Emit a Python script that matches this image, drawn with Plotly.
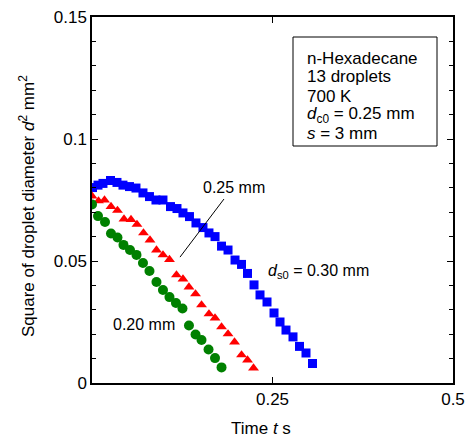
import plotly.graph_objects as go

# Data
t_030 = [0.0007, 0.0083, 0.0152, 0.0256, 0.0346, 0.0429, 0.0519, 0.0609, 0.0706, 0.0796,
         0.0886, 0.0983, 0.1087, 0.1177, 0.1260, 0.1350, 0.1440, 0.1537, 0.1620, 0.1704,
         0.1794, 0.1884, 0.1981, 0.2071, 0.2154, 0.2244, 0.2327, 0.2424, 0.2521, 0.2604,
         0.2687, 0.2784, 0.2874, 0.2964, 0.3054]
d2_030 = [0.0801, 0.0811, 0.0818, 0.0830, 0.0822, 0.0811, 0.0805, 0.0799, 0.0779, 0.0764,
          0.0750, 0.0750, 0.0723, 0.0715, 0.0697, 0.0682, 0.0656, 0.0637, 0.0615, 0.0600,
          0.0561, 0.0545, 0.0504, 0.0486, 0.0449, 0.0402, 0.0361, 0.0332, 0.0287, 0.0250,
          0.0217, 0.0189, 0.0150, 0.0123, 0.0080]

t_025 = [0.0000, 0.0090, 0.0173, 0.0263, 0.0353, 0.0443, 0.0540, 0.0623, 0.0713, 0.0803,
         0.0893, 0.0983, 0.1073, 0.1170, 0.1260, 0.1343, 0.1434, 0.1517, 0.1620, 0.1704,
         0.1794, 0.1884, 0.1974, 0.2071, 0.2154, 0.2237]
d2_025 = [0.0766, 0.0746, 0.0750, 0.0723, 0.0707, 0.0672, 0.0670, 0.0650, 0.0615, 0.0586,
          0.0545, 0.0525, 0.0506, 0.0443, 0.0426, 0.0393, 0.0365, 0.0320, 0.0283, 0.0266,
          0.0230, 0.0201, 0.0168, 0.0115, 0.0094, 0.0061]

t_020 = [0.0000, 0.0083, 0.0180, 0.0263, 0.0353, 0.0436, 0.0526, 0.0616, 0.0706, 0.0796,
         0.0893, 0.0983, 0.1073, 0.1163, 0.1253, 0.1343, 0.1434, 0.1517, 0.1614, 0.1704,
         0.1794]
d2_020 = [0.0732, 0.0684, 0.0660, 0.0613, 0.0596, 0.0566, 0.0545, 0.0525, 0.0492, 0.0459,
          0.0414, 0.0381, 0.0352, 0.0328, 0.0305, 0.0236, 0.0199, 0.0176, 0.0137, 0.0102,
          0.0064]

x_tickvals = [0.25, 0.5]
x_ticktext = ["0.25", "0.5"]
y_tickvals = [0, 0.05, 0.1, 0.15]
y_ticktext = ["0", "0.05", "0.1", "0.15"]

box_lines = ["n-Hexadecane", "13 droplets", "700 K",
             "<i>d</i><sub>c0</sub> = 0.25 mm", "<i>s</i> = 3 mm"]

FONT = "Liberation Sans, Arial, sans-serif"

fig = go.Figure()
fig.add_trace(go.Scatter(x=t_030, y=d2_030, mode="markers",
                         marker=dict(symbol="square", size=9, color="#0000ff", line=dict(width=0))))
fig.add_trace(go.Scatter(x=t_025, y=d2_025, mode="markers",
                         marker=dict(symbol="triangle-up", size=9.5, color="#ff0000", line=dict(width=0))))
fig.add_trace(go.Scatter(x=t_020, y=d2_020, mode="markers",
                         marker=dict(symbol="circle", size=10, color="#008000", line=dict(width=0))))

axis_common = dict(showgrid=False, zeroline=False, showline=True, linecolor="black", linewidth=1.5,
                   mirror="allticks", ticks="inside", ticklen=6, tickcolor="black", tickwidth=1,
                   automargin=False,
                   tickfont=dict(family=FONT, size=17, color="black"))
fig.update_xaxes(range=[0, 0.5], tickvals=x_tickvals, ticktext=x_ticktext, **axis_common)
fig.update_yaxes(range=[0, 0.15], tickvals=y_tickvals, ticktext=y_ticktext,
                 minor=dict(dtick=0.01, ticks="inside", ticklen=4, tickcolor="black", showgrid=False),
                 **axis_common)

ann_font = dict(family=FONT, size=16, color="black")
annotations = [
    dict(x=(261 - 92) / 361, y=(383 - 428) / 366, xref="paper", yref="paper", text="Time <i>t</i> s",
         xanchor="center", yanchor="middle",
         showarrow=False, font=dict(family=FONT, size=17, color="black")),
    dict(x=(27 - 92) / 361, y=(383 - 206) / 366, xref="paper", yref="paper",
         xanchor="center", yanchor="middle",
         text="Square of droplet diameter <i>d</i><sup>2</sup> mm<sup>2</sup>",
         textangle=-90, showarrow=False, font=dict(family=FONT, size=17, color="black")),
    dict(x=0.1967, y=0.0803, xref="x", yref="y", text="0.25 mm", showarrow=False, font=ann_font),
    dict(x=0.072, y=0.0238, xref="x", yref="y", text="0.20 mm", showarrow=False, font=ann_font),
    dict(x=0.2406, y=0.0455, xref="x", yref="y", xanchor="left",
         text="<i>d</i><sub>s0</sub> = 0.30 mm", showarrow=False, font=ann_font),
]
box_y = [58, 77, 96, 115, 133]
for txt, py in zip(box_lines, box_y):
    annotations.append(dict(x=(305 - 92) / 361, y=(383 - py) / 366, xref="paper", yref="paper",
                            xanchor="left", yanchor="middle", text=txt, showarrow=False,
                            font=dict(family=FONT, size=17, color="black")))

shapes = [
    dict(type="rect", xref="paper", yref="paper", x0=(293 - 92) / 361, x1=(437 - 92) / 361,
         y0=(383 - 146) / 366, y1=(383 - 37) / 366, line=dict(color="black", width=1),
         fillcolor="white", layer="below"),
    dict(type="line", xref="x", yref="y", x0=0.1219, y0=0.0516, x1=0.1828, y1=0.0754,
         line=dict(color="black", width=1)),
]

fig.update_layout(width=468, height=437, margin=dict(l=92, r=15, t=17, b=54, autoexpand=False),
                  plot_bgcolor="white", paper_bgcolor="white", showlegend=False,
                  annotations=annotations, shapes=shapes,
                  font=dict(family=FONT, size=16, color="black"))

fig.write_html("out.html", config={"displayModeBar": False},
               post_script="document.body.style.margin='0';document.body.style.padding='0';")
